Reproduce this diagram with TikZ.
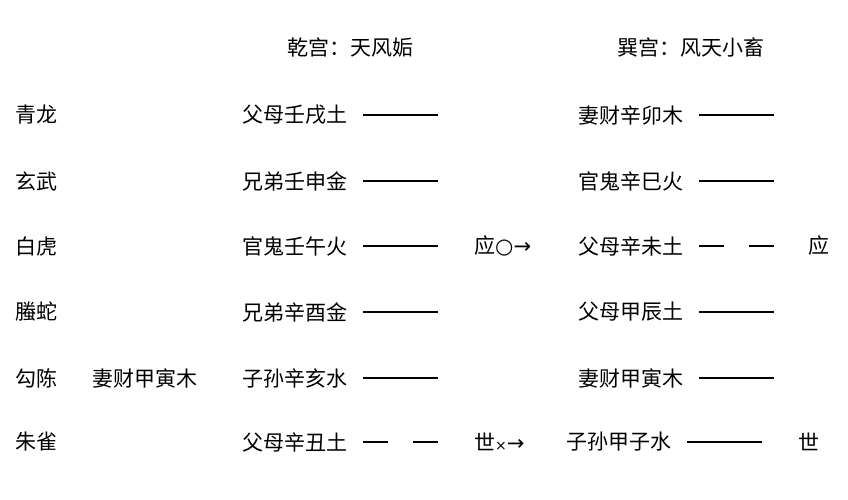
\documentclass[tikz,border=0pt]{standalone}
\usepackage{fontspec}
\setmainfont{Noto Sans CJK SC}
\begin{document}
\begin{tikzpicture}[x=1pt,y=-1pt,
  t/.style={anchor=west,inner sep=0pt,font=\fontsize{21}{21}\selectfont},
  yao/.style={line width=2.6pt,black}]
\useasboundingbox (0,0) rectangle (848,500);
\node[t] (h1) at (287,47) {乾宫：天风姤};
\node[t] (h2) at (617,47) {巽宫：风天小畜};
\foreach \n/\y/\s in {a/115/青龙,b/181/玄武,c/246/白虎,d/312/螣蛇,e/378/勾陈,f/442/朱雀}
  \node[t] (s\n) at (15,\y) {\s};
\node[t] (fu) at (92,378) {妻财甲寅木};
\foreach \n/\y/\s in {a/115/父母壬戌土,b/181/兄弟壬申金,c/246/官鬼壬午火,d/312/兄弟辛酉金,e/378/子孙辛亥水,f/442/父母辛丑土}
  \node[t] (l\n) at (242,\y) {\s};
\foreach \n/\y/\s in {a/115/妻财辛卯木,b/181/官鬼辛巳火,c/246/父母辛未土,d/312/父母甲辰土,e/378/妻财甲寅木}
  \node[t] (r\n) at (578,\y) {\s};
\node[t] (rf) at (566,442) {子孙甲子水};
% left lines
\foreach \n in {a,b,c,d,e}
  \draw[yao] ([xshift=16pt]l\n.east) -- ++(75,0);
\draw[yao] ([xshift=16pt]lf.east) -- ++(25,0);
\draw[yao] ([xshift=66pt]lf.east) -- ++(25,0);
% right lines
\foreach \n in {a,b,d,e}
  \draw[yao] ([xshift=16pt]r\n.east) -- ++(75,0);
\draw[yao] ([xshift=16pt]rc.east) -- ++(25,0);
\draw[yao] ([xshift=66pt]rc.east) -- ++(25,0);
\draw[yao] ([xshift=16pt]rf.east) -- ++(75,0);
\node[t] (ying) at (808,246) {应};
\node[t] (shi) at (798,442) {世};
\node[t] (m1) at (474,246) {应\fontspec{DejaVu Sans}○→};
\node[t] (m2) at (474,442) {世{\fontspec{DejaVu Sans}\fontsize{14}{14}\selectfont ×}\fontspec{DejaVu Sans}→};
\end{tikzpicture}
\end{document}
